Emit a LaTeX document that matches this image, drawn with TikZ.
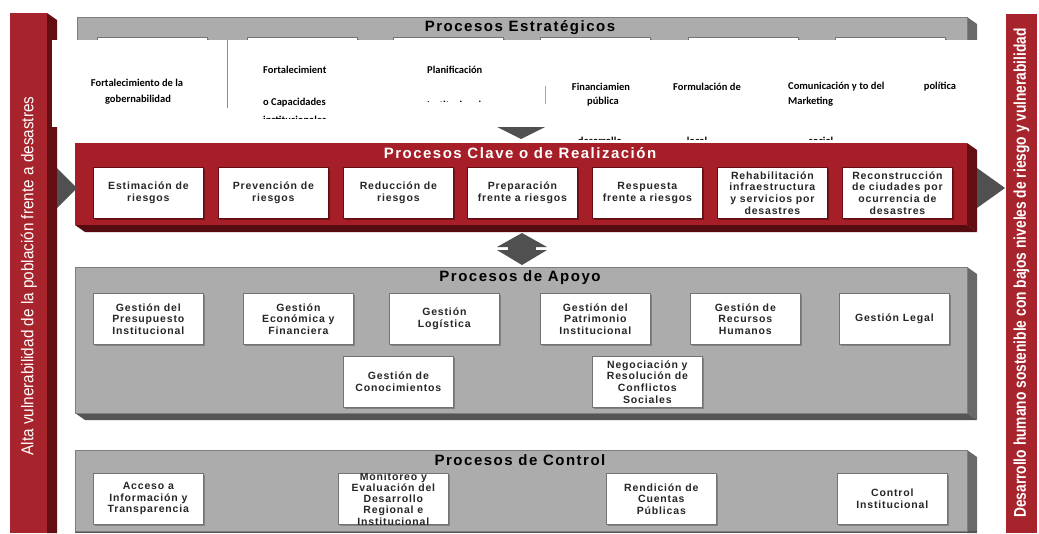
\documentclass[tikz,border=0pt]{standalone}
\usepackage{fontspec}
\setmainfont{Liberation Sans}
\newfontfamily\boxfont[LetterSpace=8]{Liberation Sans}
\newfontfamily\ttlfont[LetterSpace=10]{Liberation Sans}
\newfontfamily\sidefontA[FakeStretch=0.9]{Liberation Sans}
\newfontfamily\sidefontB[FakeStretch=0.81]{Liberation Sans}
\newfontfamily\calfont{Carlito}
\usetikzlibrary{shadows}
\definecolor{crim}{RGB}{166,30,40}
\definecolor{crimdark}{RGB}{100,14,20}
\definecolor{crimbar}{RGB}{168,36,45}
\definecolor{panelgray}{RGB}{172,172,172}
\definecolor{paneledge}{RGB}{125,125,125}
\definecolor{sidegray}{RGB}{105,105,105}
\definecolor{botgray}{RGB}{85,85,85}
\definecolor{arrowgray}{RGB}{80,80,80}
\tikzset{
  boxtext/.style={inner sep=0pt, align=center, font=\boxfont\bfseries\fontsize{10.5}{11.6}\selectfont, text=black!85},
  kbox/.style={boxtext, draw=crimdark, line width=0.8pt, fill=white, minimum width=110pt, minimum height=51pt, anchor=north west,
    drop shadow={shadow xshift=1.5pt, shadow yshift=-1.5pt, fill=crimdark, opacity=0.8}},
  gbox/.style={boxtext, draw=black!55, line width=0.7pt, fill=white, minimum width=110pt, minimum height=51pt, anchor=north west,
    drop shadow={shadow xshift=1.2pt, shadow yshift=-1.2pt, fill=black!60, opacity=0.6}},
  ttl/.style={inner sep=0pt, font=\ttlfont\bfseries\fontsize{15}{17}\selectfont},
  stxt/.style={inner sep=0pt, font=\calfont\bfseries\fontsize{10.5}{12}\selectfont, text=black},
  sidetxt/.style={inner sep=0pt, text=white, rotate=90},
  grayfront/.style={fill=panelgray, draw=paneledge, line width=0.6pt},
  arr/.style={fill=arrowgray},
}
\begin{document}
\begin{tikzpicture}[x=1pt,y=-1pt]
\useasboundingbox[fill=white] (0,0) rectangle (1039,533);

% ---------- side bars ----------
\fill[crimbar] (10,13) rectangle (47,533);
\fill[crimdark] (47,13) -- (57,20) -- (57,533) -- (47,533) -- cycle;
\node[sidetxt, font=\sidefontA\fontsize{17}{20}\selectfont] (lefttxt) at (29,276) {Alta vulnerabilidad de la población frente a desastres};
\fill[crimbar] (1006,14) rectangle (1037,533);
\node[sidetxt, font=\sidefontB\bfseries\fontsize{17}{20}\selectfont] (righttxt) at (1021.5,273) {Desarrollo humano sostenible con bajos niveles de riesgo y vulnerabilidad};

% ---------- Procesos Estrategicos (mostly hidden) ----------
\fill[sidegray] (967,17) -- (977,24) -- (977,70) -- (967,70) -- cycle;
\draw[grayfront] (77,17) rectangle (967,70);
\node[ttl] (t1) at (520,28) {Procesos Estratégicos};
\node[gbox, minimum height=30pt] (e1) at (97,37) {};
\node[gbox, minimum height=30pt] (e2) at (247,37) {};
\node[gbox, minimum height=30pt] (e3) at (393,37) {};
\node[gbox, minimum height=30pt] (e4) at (540,37) {};
\node[gbox, minimum height=30pt] (e5) at (688,37) {};
\node[gbox, minimum height=30pt] (e6) at (835,37) {};

% white overlay with extracted texts
\fill[white] (52,40) rectangle (545,127);
\fill[white] (545,40) rectangle (1005,138);
\draw[black!45, line width=0.8pt] (227,40) -- (227,108);
\draw[black!35, line width=0.8pt] (545,86) -- (545,104);

\node[stxt] (s1a) at (137,83) {Fortalecimiento de la};
\node[stxt] (s1b) at (138,100) {gobernabilidad};
\node[stxt, anchor=west] (s2a) at (263,70) {Fortalecimient};
\node[stxt, anchor=west] (s2b) at (263,103) {o Capacidades};
\begin{scope}
  \clip (52,40) rectangle (545,118);
  \node[stxt, anchor=west] (s2c) at (263,120) {institucionales};
\end{scope}
\node[stxt, anchor=west] (s3a) at (427,70) {Planificación};
\begin{scope}
  \clip (380,40) rectangle (545,101);
  \node[stxt, anchor=west] (s3b) at (427,105) {Institucional};
\end{scope}
\node[stxt] (s4a) at (601,87) {Financiamien};
\node[stxt] (s4b) at (603,102) {pública};
\node[stxt] (s5a) at (707,87) {Formulación de};
\node[stxt, anchor=west] (s6a) at (788,87) {Comunicación y to del};
\node[stxt, anchor=west] (s6b) at (788,102) {Marketing};
\node[stxt] (s7a) at (940,87) {política};
\begin{scope}
  \clip (545,40) rectangle (1005,139);
  \node[stxt] (s4c) at (600,141) {desarrollo};
  \node[stxt] (s5c) at (697,141) {local};
  \node[stxt] (s6c) at (821,141) {social};
\end{scope}

% arrow Estrategicos -> Clave (visible tip)
\fill[arr] (497,127) -- (545,127) -- (521,139) -- cycle;

% ---------- Procesos Clave ----------
\fill[crimdark] (967,143) -- (977,150) -- (977,232) -- (967,225) -- cycle;
\fill[crimdark!85!black] (75,225) -- (967,225) -- (977,232) -- (85,232) -- cycle;
\fill[crim] (75,143) rectangle (967,225);
\node[ttl, text=white] (t2) at (520,153) {Procesos Clave o de Realización};
\node[kbox] (k1) at (93,167) {Estimación de\\riesgos};
\node[kbox] (k2) at (218,167) {Prevención de\\riesgos};
\node[kbox] (k3) at (343,167) {Reducción de\\riesgos};
\node[kbox] (k4) at (467,167) {Preparación\\frente a riesgos};
\node[kbox] (k5) at (592,167) {Respuesta\\frente a riesgos};
\node[kbox] (k6) at (717,167) {Rehabilitación\\infraestructura\\y servicios por\\desastres};
\node[kbox] (k7) at (842,167) {Reconstrucción\\de ciudades por\\ocurrencia de\\desastres};

% side arrows
\fill[arr] (57,168) -- (77,188) -- (57,208) -- cycle;
\fill[arr] (977,168) -- (1005,188) -- (977,208) -- cycle;

% double arrow Clave <-> Apoyo
\fill[arr] (522,233) -- (547,247) -- (497,247) -- cycle;
\fill[arr] (508,246) rectangle (536,251);
\fill[arr] (497,250) -- (547,250) -- (522,265) -- cycle;

% ---------- Procesos de Apoyo ----------
\fill[sidegray] (967,267) -- (977,274) -- (977,420) -- (967,413) -- cycle;
\fill[botgray] (75,413) -- (967,413) -- (977,420) -- (85,420) -- cycle;
\draw[grayfront] (75,267) rectangle (967,413);
\node[ttl] (t3) at (520,278) {Procesos de Apoyo};
\node[gbox] (a1) at (93,293) {Gestión del\\Presupuesto\\Institucional};
\node[gbox] (a2) at (243,293) {Gestión\\Económica y\\Financiera};
\node[gbox] (a3) at (389,293) {Gestión\\Logística};
\node[gbox] (a4) at (540,293) {Gestión del\\Patrimonio\\Institucional};
\node[gbox] (a5) at (690,293) {Gestión de\\Recursos\\Humanos};
\node[gbox] (a6) at (839,293) {Gestión Legal};
\node[gbox] (a7) at (343,356) {Gestión de\\Conocimientos};
\node[gbox] (a8) at (592,356) {Negociación y\\Resolución de\\Conflictos\\Sociales};

% ---------- Procesos de Control ----------
\fill[sidegray] (967,450) -- (977,457) -- (977,533) -- (967,533) -- cycle;
\fill[botgray] (75,531) rectangle (977,533);
\draw[grayfront] (75,450) rectangle (967,531);
\node[ttl] (t4) at (520,460) {Procesos de Control};
\node[gbox] (c1) at (93,473) {Acceso a\\Información y\\Transparencia};
\node[gbox] (c2) at (338,473) {};
\begin{scope}
  \clip (c2.south west) rectangle (c2.north east);
  \node[boxtext, font=\boxfont\bfseries\fontsize{10.5}{11.2}\selectfont] (c2t) at (c2.center) {Monitoreo y\\Evaluación del\\Desarrollo\\Regional e\\Institucional};
\end{scope}
\node[gbox] (c3) at (606,473) {Rendición de\\Cuentas\\Públicas};
\node[gbox] (c4) at (837,473) {Control\\Institucional};
\end{tikzpicture}
\end{document}
